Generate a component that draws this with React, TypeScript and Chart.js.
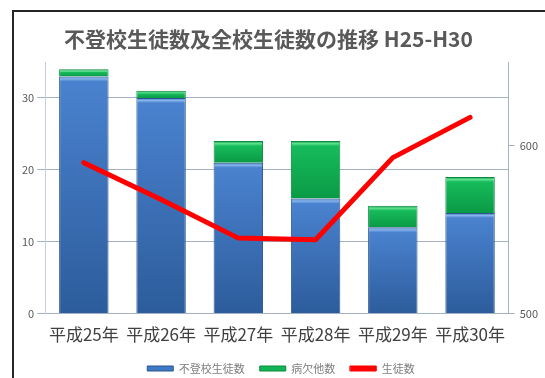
import React, { useEffect, useRef } from "react";
import { Chart, registerables } from "chart.js";

Chart.register(...registerables);

const categories = ["平成25年", "平成26年", "平成27年", "平成28年", "平成29年", "平成30年"];
const futoko = [33, 30, 21, 16, 12, 14];
const byoketsu = [1, 1, 3, 8, 3, 5];
const seito = [590, 568, 545, 544, 593, 617];
const leftTicks = [0, 10, 20, 30];
const rightTicks = [500, 600];
const titleText = "不登校生徒数及全校生徒数の推移 H25-H30";
const seriesNames = ["不登校生徒数", "病欠他数", "生徒数"];

const FONT = "'Noto Sans CJK JP', 'Noto Sans', sans-serif";

function barGradient(ctx: any, base: number[], vals: number[], colors: string[]) {
  const chart = ctx.chart;
  const ys = chart.scales && chart.scales.y;
  if (!ys || ctx.dataIndex === undefined || !chart.chartArea) return colors[2];
  const i = ctx.dataIndex;
  const top = ys.getPixelForValue(base[i] + vals[i]);
  const bot = ys.getPixelForValue(base[i]);
  const h = Math.max(bot - top, 1);
  const g = chart.ctx.createLinearGradient(0, top, 0, bot);
  g.addColorStop(0, colors[0]);
  g.addColorStop(Math.min(2.5 / h, 0.3), colors[1]);
  g.addColorStop(Math.min(5 / h, 0.45), colors[2]);
  g.addColorStop(1, colors[3]);
  return g;
}

export default function App() {
  const ref = useRef<HTMLCanvasElement>(null);
  useEffect(() => {
    if (!ref.current) return;
    const zeros = categories.map(() => 0);
    const chart = new Chart(ref.current, {
      type: "bar",
      data: {
        labels: categories,
        datasets: [
          {
            type: "line",
            label: seriesNames[2],
            data: seito,
            yAxisID: "y1",
            borderColor: "#FF0000",
            backgroundColor: "#FF0000",
            borderWidth: 5,
            pointRadius: 0,
            tension: 0,
            order: 0,
            borderCapStyle: "round",
            borderJoinStyle: "round",
          } as any,
          {
            type: "bar",
            label: seriesNames[0],
            data: futoko,
            yAxisID: "y",
            stack: "s",
            order: 1,
            backgroundColor: (c: any) =>
              barGradient(c, zeros, futoko, ["#3f74bd", "#86b5ec", "#4a82cf", "#2c5c9b"]),
            borderColor: "#2a5590",
            borderWidth: 1,
            categoryPercentage: 0.64,
            barPercentage: 1,
          } as any,
          {
            type: "bar",
            label: seriesNames[1],
            data: byoketsu,
            yAxisID: "y",
            stack: "s",
            order: 1,
            backgroundColor: (c: any) =>
              barGradient(c, futoko, byoketsu, ["#0c9a45", "#5fe08f", "#16bb5a", "#0a9a46"]),
            borderColor: "#0b8a3e",
            borderWidth: 1,
            categoryPercentage: 0.64,
            barPercentage: 1,
          } as any,
        ],
      },
      options: {
        animation: false,
        responsive: false,
        maintainAspectRatio: false,
        layout: { padding: { top: 62, left: 19, right: 2, bottom: -6 } },
        plugins: {
          title: { display: false },
          tooltip: { enabled: false },
          legend: {
            position: "bottom",
            labels: {
              boxWidth: 26,
              boxHeight: 5,
              color: "#7f7f7f",
              font: { family: FONT, size: 11 },
              padding: 15,
              generateLabels: (ch: any) => {
                const order = [1, 2, 0];
                const base = Chart.defaults.plugins.legend.labels.generateLabels(ch);
                return order.map((k) => {
                  const it = base[k];
                  if (k === 1) { it.fillStyle = "#3f78c4"; it.strokeStyle = "#2a5590"; it.lineWidth = 1; }
                  if (k === 2) { it.fillStyle = "#13b455"; it.strokeStyle = "#0b8a3e"; it.lineWidth = 1; }
                  if (k === 0) { it.lineWidth = 1; it.fillStyle = "#FF0000"; it.strokeStyle = "#FF0000"; }
                  return it;
                });
              },
            },
          },
        },
        scales: {
          x: {
            stacked: true,
            grid: { display: false },
            border: { display: true, color: "#A3B2C6" },
            ticks: { color: "#404040", font: { family: FONT, size: 17 }, padding: 3 },
          },
          y: {
            stacked: true,
            position: "left",
            min: 0,
            max: 35,
            afterBuildTicks: (axis: any) => {
              axis.ticks = leftTicks.map((v) => ({ value: v }));
            },
            grid: { color: "#A3B2C6", lineWidth: 1, tickLength: 8, drawTicks: true },
            border: { display: true, color: "#C5CEDA" },
            ticks: { color: "#595959", font: { family: FONT, size: 11 }, padding: 3 },
          },
          y1: {
            position: "right",
            min: 500,
            max: 650,
            afterBuildTicks: (axis: any) => {
              axis.ticks = rightTicks.map((v) => ({ value: v }));
            },
            grid: { drawOnChartArea: false, color: "#A3B2C6", tickLength: 6 },
            border: { display: true, color: "#A3B2C6" },
            ticks: { color: "#595959", font: { family: FONT, size: 11 }, padding: 5 },
          },
        },
      } as any,
    });
    return () => chart.destroy();
  }, []);

  return (
    <div style={{ position: "fixed", left: 0, top: 0, width: 545, height: 378, overflow: "hidden", background: "#fff" }}>
      <div
        style={{
          position: "absolute",
          left: 12,
          top: 10,
          width: 700,
          height: 500,
          borderLeft: "2px solid #262626",
          borderTop: "2px solid #262626",
        }}
      />
      <canvas ref={ref} width={545} height={378} style={{ position: "absolute", left: 0, top: 0, width: 545, height: 378 }} />
      <div
        style={{
          position: "absolute",
          left: 64,
          top: 25,
          fontFamily: FONT,
          fontWeight: 700,
          fontSize: 21,
          lineHeight: "26px",
          color: "#595959",
          whiteSpace: "nowrap",
        }}
      >
        {titleText}
      </div>
    </div>
  );
}
